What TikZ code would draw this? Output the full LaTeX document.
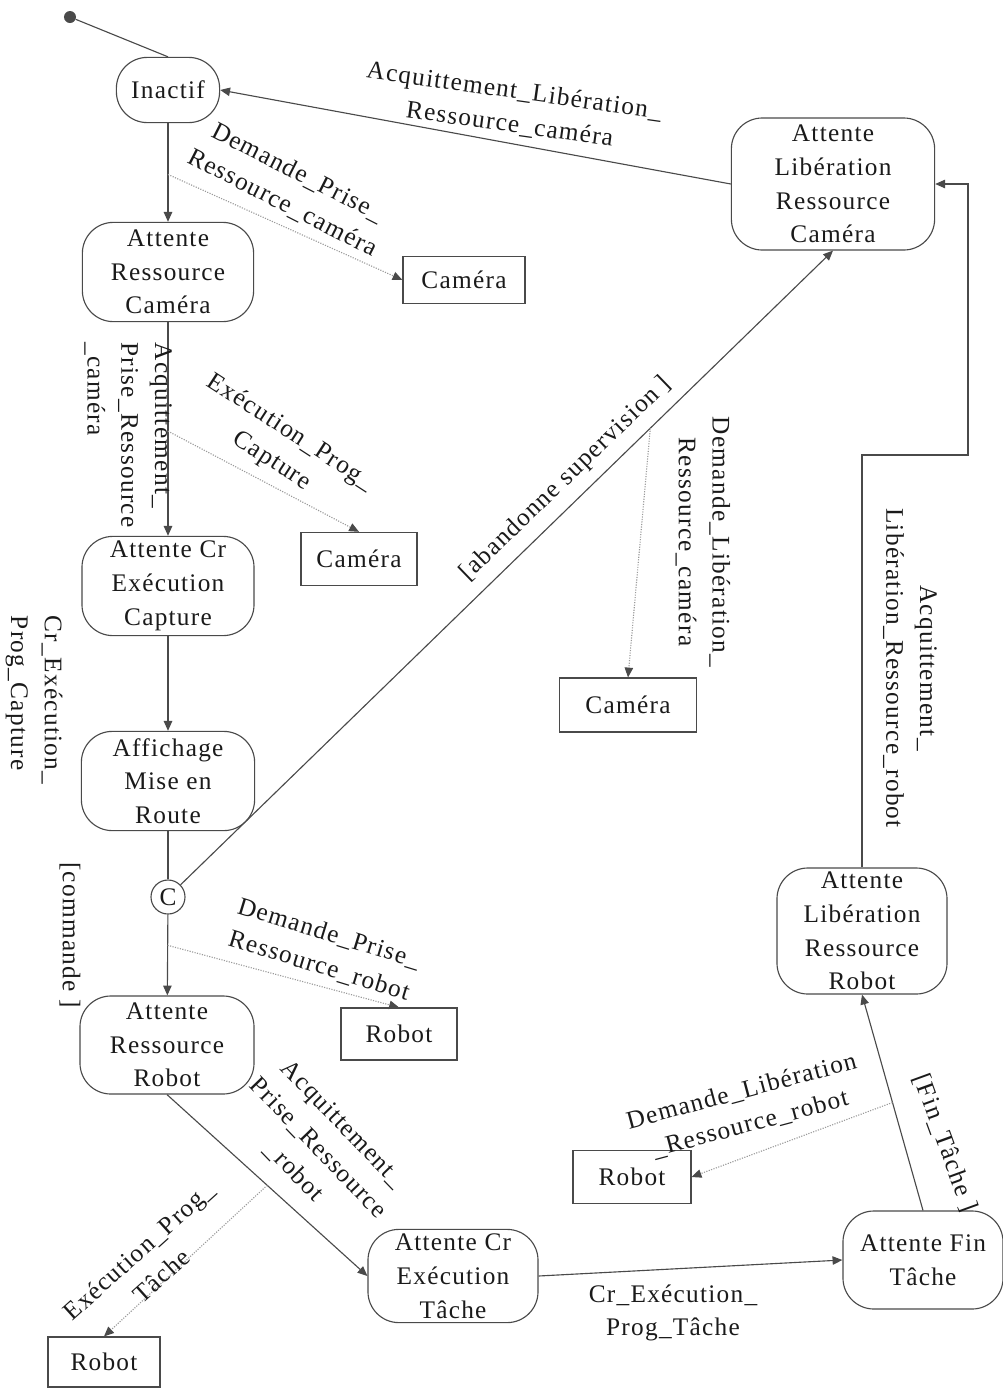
\documentclass[tikz,border=0pt]{standalone}
\usepackage{fontspec}
\setmainfont{Liberation Serif}[LetterSpace=5]
\usepackage{xcolor}
\usetikzlibrary{arrows.meta,positioning}
\definecolor{stateLine}{HTML}{4A4A4A}
\definecolor{msgLine}{HTML}{9A9A9A}
\definecolor{inkText}{HTML}{1A1A1A}

\begin{document}
\begin{tikzpicture}[x=0.025cm,y=-0.025cm,
    font=\fontsize{18}{24}\selectfont,
    text=inkText,
    >={Triangle[length=7pt,width=6pt]},
    state/.style={draw=stateLine,line width=0.8pt,rounded corners=22pt,
                  align=center,inner sep=1pt},
    actor/.style={draw=stateLine,line width=0.8pt,inner sep=3pt},
    trans/.style={draw=stateLine,line width=0.8pt,->},
    msg/.style={draw=msgLine,densely dotted,line width=0.8pt,
                -{Triangle[length=7pt,width=6pt,color=stateLine]}},
    lbl/.style={align=center,inner sep=0pt}]
    \useasboundingbox (0,0) rectangle (1003,1389);

    % states
    \node[circle,fill=stateLine,inner sep=0pt,minimum size=0.3cm] (start) at (70,17) {};
    \node[state,minimum width=2.58cm,minimum height=1.63cm] (inactif) at (168,90) {Inactif};
    \node[state,minimum width=4.28cm,minimum height=2.48cm] (arc) at (168,272) {Attente\\Ressource\\Caméra};
    \node[state,minimum width=5.08cm,minimum height=3.3cm] (alrc) at (833,184) {Attente\\Libération\\Ressource\\Caméra};
    \node[state,minimum width=4.3cm,minimum height=2.48cm] (acec) at (168,586) {Attente Cr\\Exécution\\Capture};
    \node[state,minimum width=4.33cm,minimum height=2.48cm] (amr) at (168,781) {Affichage\\Mise en\\Route};
    \node[circle,draw=stateLine,line width=0.8pt,inner sep=0pt,minimum size=0.85cm] (c) at (168,897) {C};
    \node[state,minimum width=4.35cm,minimum height=2.45cm] (arr) at (167,1045) {Attente\\Ressource\\Robot};
    \node[state,minimum width=4.25cm,minimum height=2.33cm] (acet) at (453,1276) {Attente Cr\\Exécution\\Tâche};
    \node[state,minimum width=4.0cm,minimum height=2.45cm] (aft) at (923,1260) {Attente Fin\\Tâche};
    \node[state,minimum width=4.25cm,minimum height=3.15cm,inner sep=0pt] (alrr) at (862,931) {Attente\\Libération\\Ressource\\Robot};

    % resources
    \node[actor,minimum width=3.05cm,minimum height=1.18cm] (cam1) at (464,280) {Caméra};
    \node[actor,minimum width=2.9cm,minimum height=1.33cm] (cam2) at (359,559) {Caméra};
    \node[actor,minimum width=3.43cm,minimum height=1.35cm] (cam3) at (628,705) {Caméra};
    \node[actor,minimum width=2.9cm,minimum height=1.3cm] (rob1) at (399,1034) {Robot};
    \node[actor,minimum width=2.95cm,minimum height=1.33cm] (rob2) at (632,1177) {Robot};
    \node[actor,minimum width=2.8cm,minimum height=1.25cm] (rob3) at (104,1362) {Robot};

    % transitions
    \draw[draw=stateLine,line width=0.8pt] (start) -- (inactif.north);
    \draw[trans] (inactif) -- (arc);
    \draw[trans] (alrc.west) -- (inactif.east);
    \draw[trans] (arc) -- (acec);
    \draw[trans] (acec) -- (amr);
    \draw[draw=stateLine,line width=1.4pt] (amr) -- (c);
    \draw[trans] (c) -- (arr);
    \draw[trans] (c) -- (alrc.south);
    \draw[trans] (arr.south) -- (acet.west);
    \draw[trans] (acet.east) -- (aft.west);
    \draw[trans] (aft.north) -- (alrr.south);
    \coordinate (bend) at (968,455);
    \draw[trans] (alrr.north) |- (bend) |- (alrc.east);

    % message points
    \path (inactif.south) -- (arc.north) coordinate[pos=0.52] (p1);
    \path (arc.south) -- (acec.north) coordinate[pos=0.51] (p2);
    \path (c) -- (alrc.south) coordinate[pos=0.72] (p3);
    \path (c.south) -- (arr.north) coordinate[pos=0.38] (p4);
    \path (arr.south) -- (acet.west) coordinate[pos=0.5] (p5);
    \path (aft.north) -- (alrr.south) coordinate[pos=0.5] (p6);

    % messages
    \draw[msg] (p1) -- (cam1.west);
    \draw[msg] (p2) -- (cam2.north);
    \draw[msg] (p3) -- (cam3.north);
    \draw[msg] (p4) -- (rob1.north);
    \draw[msg] (p5) -- (rob3.north);
    \draw[msg] (p6) -- (rob2.east);

    % labels
    \node[lbl,rotate=-8] (l1) at (512,108) {Acquittement\_Libération\_\\Ressource\_caméra};
    \node[lbl,rotate=-27] (l2) at (290,188) {Demande\_Prise\_\\Ressource\_caméra};
    \node[lbl,rotate=-90,align=left] (l3) at (128,435) {Acquittement\_\\Prise\_Ressource\\\_caméra};
    \node[lbl,rotate=-33] (l4) at (281,447) {Exécution\_Prog\_\\Capture};
    \node[lbl,rotate=-90,align=left] (l5) at (34,700) {Cr\_Exécution\_\\Prog\_Capture};
    \node[lbl,rotate=-90] (l6) at (70,935) {[commande ]};
    \node[lbl,rotate=-17] (l7) at (324,950) {Demande\_Prise\_\\Ressource\_robot};
    \node[lbl,rotate=44] (l8) at (566,479) {[abandonne supervision ]};
    \node[lbl,rotate=-90] (l9) at (703,542) {Demande\_Libération\_\\Ressource\_caméra};
    \node[lbl,rotate=-90] (l10) at (910,668) {Acquittement\_\\Libération\_Ressource\_robot};
    \node[lbl,rotate=-46] (l11) at (318,1148) {Acquittement\_\\Prise\_Ressource\\\_robot};
    \node[lbl,rotate=42] (l12) at (150,1263) {Exécution\_Prog\_\\Tâche};
    \node[lbl] (l13) at (673,1313) {Cr\_Exécution\_\\Prog\_Tâche};
    \node[lbl,rotate=-70] (l14) at (945,1143) {[Fin\_Tâche ]};
    \node[lbl,rotate=15] (l15) at (746,1108) {Demande\_Libération\\\_Ressource\_robot};
\end{tikzpicture}
\end{document}
